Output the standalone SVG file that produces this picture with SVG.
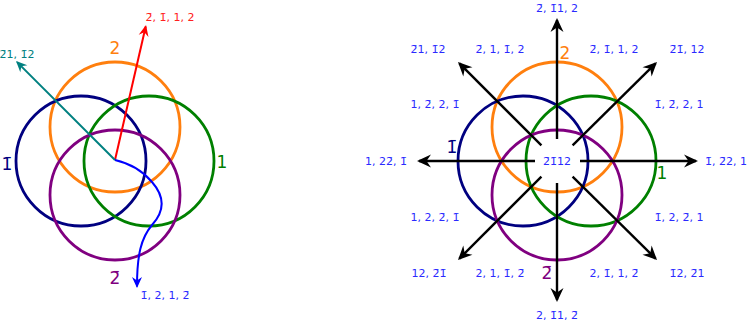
<svg xmlns="http://www.w3.org/2000/svg" width="747" height="322" viewBox="0 0 747 322">
<style>
  .c { fill: none; stroke-width: 2.8; }
  .orange { stroke: #ff7f0e; }
  .navy { stroke: #000080; }
  .green { stroke: #008000; }
  .purple { stroke: #800080; }
  text { font-family: "DejaVu Sans", "Inter", sans-serif; text-anchor: middle; }
  .lab { font-size: 11px; fill: #2a2aff; }
  .big { font-size: 17px; }
  .ar { fill: none; stroke: #000; stroke-width: 2.4; }
</style>
<defs>
  <marker id="hk" markerUnits="userSpaceOnUse" orient="auto" overflow="visible" refX="0" refY="0" markerWidth="1" markerHeight="1">
    <path d="M2,0 L-12,-6.5 L-7.5,0 L-12,6.5 Z" fill="#000"/>
  </marker>
  <marker id="hr" markerUnits="userSpaceOnUse" orient="auto" overflow="visible" refX="0" refY="0" markerWidth="1" markerHeight="1">
    <path d="M1.5,0 L-9.5,-5 L-6,0 L-9.5,5 Z" fill="#ff0000"/>
  </marker>
  <marker id="ht" markerUnits="userSpaceOnUse" orient="auto" overflow="visible" refX="0" refY="0" markerWidth="1" markerHeight="1">
    <path d="M1.5,0 L-9.5,-5 L-6,0 L-9.5,5 Z" fill="#008080"/>
  </marker>
  <marker id="hb" markerUnits="userSpaceOnUse" orient="auto" overflow="visible" refX="0" refY="0" markerWidth="1" markerHeight="1">
    <path d="M1.5,0 L-9.5,-5 L-6,0 L-9.5,5 Z" fill="#0000ff"/>
  </marker>
</defs>

<!-- Left diagram -->
<g id="left-circle-2">
  <circle class="c orange" cx="115" cy="127" r="65"/>
  <text class="big" x="115" y="54" fill="#ff7f0e">2</text>
</g>
<g id="left-circle-1bar">
  <circle class="c navy" cx="81" cy="161" r="65"/>
  <text class="big" x="7" y="170" fill="#000080">1̄</text>
</g>
<g id="left-circle-1">
  <circle class="c green" cx="149" cy="161" r="65"/>
  <text class="big" x="222" y="168" fill="#008000">1</text>
</g>
<g id="left-circle-2bar">
  <circle class="c purple" cx="115" cy="195" r="65"/>
  <text class="big" x="115" y="284" fill="#800080">2̄</text>
</g>

<g id="left-connectors">
  <line x1="115" y1="160" x2="145.7" y2="26.5" stroke="#ff0000" stroke-width="2" marker-end="url(#hr)"/>
  <line x1="115" y1="160" x2="17.1" y2="62.1" stroke="#008080" stroke-width="2" marker-end="url(#ht)"/>
  <path d="M115,160 C128,163 142,170 152,182 C166,198 164,212 152,225 C141,238 137,255 137,286.5" fill="none" stroke="#0000ff" stroke-width="2" marker-end="url(#hb)"/>
</g>
<g id="left-labels">
  <text class="lab" x="170" y="21" style="fill:#ff2020">2̄, 1̄, 1, 2</text>
  <text class="lab" x="17" y="58" style="fill:#008080">2̄1, 1̄2</text>
  <text class="lab" x="165" y="299">1̄, 2, 1, 2̄</text>
</g>

<!-- Right diagram -->
<g id="right-circle-2">
  <circle class="c orange" cx="557" cy="127" r="65"/>
  <text class="big" x="565" y="59" fill="#ff7f0e">2</text>
</g>
<g id="right-circle-1bar">
  <circle class="c navy" cx="523" cy="161" r="65"/>
  <text class="big" x="452" y="153" fill="#000080">1̄</text>
</g>
<g id="right-circle-1">
  <circle class="c green" cx="591" cy="161" r="65"/>
  <text class="big" x="662" y="179" fill="#008000">1</text>
</g>
<g id="right-circle-2bar">
  <circle class="c purple" cx="557" cy="195" r="65"/>
  <text class="big" x="547" y="279" fill="#800080">2̄</text>
</g>

<g id="right-connectors">
  <line class="ar" x1="557" y1="139" x2="557" y2="20" marker-end="url(#hk)"/>
  <line class="ar" x1="557" y1="183" x2="557" y2="300" marker-end="url(#hk)"/>
  <line class="ar" x1="535" y1="161" x2="419" y2="161" marker-end="url(#hk)"/>
  <line class="ar" x1="580" y1="161" x2="696" y2="161" marker-end="url(#hk)"/>
  <line class="ar" x1="541.4" y1="145.4" x2="459.4" y2="63.4" marker-end="url(#hk)"/>
  <line class="ar" x1="572.6" y1="145.4" x2="655.6" y2="63.4" marker-end="url(#hk)"/>
  <line class="ar" x1="541.4" y1="176.6" x2="459.4" y2="258.6" marker-end="url(#hk)"/>
  <line class="ar" x1="572.6" y1="176.6" x2="655.6" y2="258.6" marker-end="url(#hk)"/>
</g>

<g id="right-labels">
  <text class="lab" x="557" y="165">2̄1̄12</text>
  <text class="lab" x="557" y="12">2̄, 1̄1, 2</text>
  <text class="lab" x="428" y="53">2̄1, 1̄2</text>
  <text class="lab" x="500" y="53">2̄, 1, 1̄, 2</text>
  <text class="lab" x="614" y="53">2̄, 1̄, 1, 2</text>
  <text class="lab" x="687" y="53">2̄1̄, 12</text>
  <text class="lab" x="435" y="108">1, 2̄, 2, 1̄</text>
  <text class="lab" x="679" y="108">1̄, 2̄, 2, 1</text>
  <text class="lab" x="386" y="165">1, 22̄, 1̄</text>
  <text class="lab" x="726" y="165">1̄, 2̄2, 1</text>
  <text class="lab" x="435" y="221">1, 2, 2̄, 1̄</text>
  <text class="lab" x="679" y="221">1̄, 2, 2̄, 1</text>
  <text class="lab" x="429" y="277">12, 2̄1̄</text>
  <text class="lab" x="500" y="277">2, 1, 1̄, 2̄</text>
  <text class="lab" x="614" y="277">2, 1̄, 1, 2̄</text>
  <text class="lab" x="687" y="277">1̄2, 2̄1</text>
  <text class="lab" x="557" y="319">2, 1̄1, 2̄</text>
</g>
</svg>
